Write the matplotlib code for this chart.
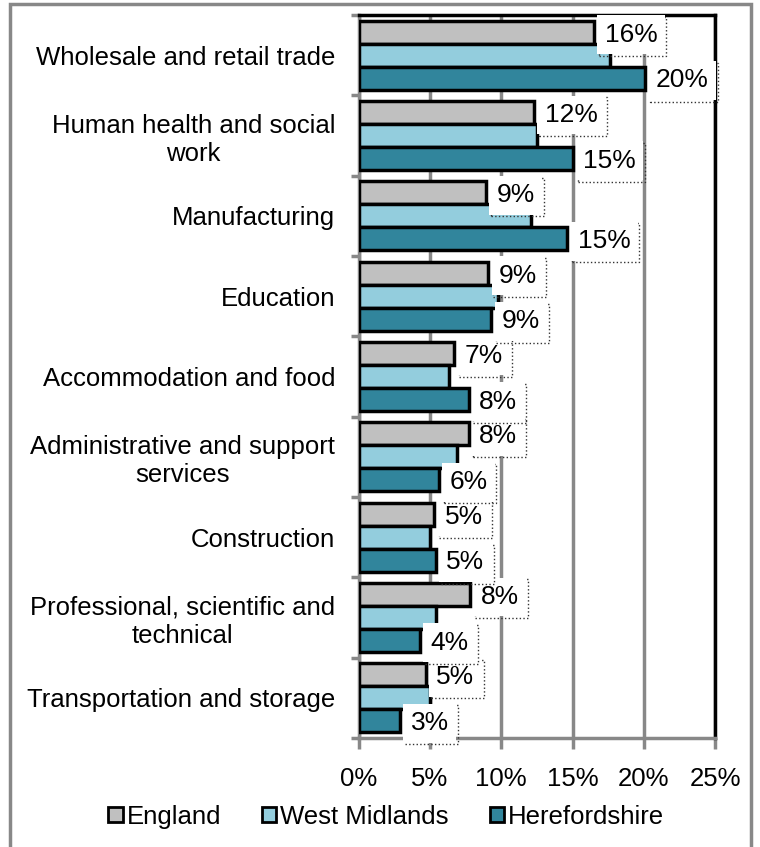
import matplotlib.pyplot as plt
import matplotlib.patheffects as pe
import numpy as np
from matplotlib.patches import Patch, Rectangle

plt.rcParams['font.family'] = ['Liberation Sans', 'DejaVu Sans']

industries = ["Wholesale and retail trade", "Human health and social\nwork", "Manufacturing",
              "Education", "Accommodation and food", "Administrative and support\nservices",
              "Construction", "Professional, scientific and\ntechnical", "Transportation and storage"]
england = [16.5, 12.3, 8.9, 9.1, 6.7, 7.7, 5.3, 7.8, 4.7]
west_midlands = [17.6, 12.5, 12.1, 9.8, 6.3, 6.9, 5.0, 5.4, 5.0]
herefordshire = [20.1, 15.0, 14.6, 9.3, 7.7, 5.6, 5.4, 4.3, 2.9]
series = ["England", "West Midlands", "Herefordshire"]
colours = ["#c0c0c0", "#93cddd", "#31859c"]

fig = plt.figure(figsize=(7.6, 8.47), dpi=100)
ax = fig.add_axes([0.472, 0.1287, 0.469, 0.8536])

y = np.arange(len(industries))
h = 0.285
for vals, off, c in zip([england, west_midlands, herefordshire], [-h, 0, h], colours):
    ax.barh(y + off, vals, height=h, color=c, edgecolor='black', linewidth=2.5, zorder=3)

# labels on England and Herefordshire bars: white box with a dotted "shadow"
box_fx = [pe.PathPatchEffect(offset=(1.2, -1.2), facecolor='none', edgecolor='#333333',
                             linestyle=':', linewidth=1),
          pe.Normal()]
for vals, off in [(england, -h), (herefordshire, h)]:
    for yi, v in zip(y, vals):
        t = ax.text(v + 0.75, yi + off + 0.03, "%d%%" % round(v), fontsize=19, va='center',
                    ha='left', zorder=5,
                    bbox=dict(facecolor='white', edgecolor='none', boxstyle='square,pad=0.28'))
        t.get_bbox_patch().set_path_effects(box_fx)

ax.set_xlim(0, 25)
ax.set_ylim(len(industries) - 0.5, -0.5)
ax.set_xticks(np.arange(0, 26, 5))
ax.set_xticklabels(["%d%%" % t for t in range(0, 26, 5)], fontsize=18.5)
ax.set_yticks(y)
ax.set_yticklabels(industries, fontsize=18.5, multialignment='center')
ax.set_yticks(np.arange(-0.5, len(industries)), minor=True)
ax.tick_params(axis='y', which='major', length=0, pad=17)
ax.tick_params(axis='y', which='minor', length=6, width=2.5, color='#888888', direction='out')
ax.tick_params(axis='x', length=8, width=2.5, color='#888888', pad=13)

ax.grid(axis='x', color='#888888', linewidth=2.5, zorder=0)
ax.set_axisbelow(True)
for s in ['left', 'bottom']:
    ax.spines[s].set_color('#888888')
    ax.spines[s].set_linewidth(2.5)
for s in ['top', 'right']:
    ax.spines[s].set_color('black')
    ax.spines[s].set_linewidth(2.5)

handles = [Patch(facecolor=c, edgecolor='black', linewidth=2) for c in colours]
fig.legend(handles, series, loc='center', bbox_to_anchor=(0.508, 0.036), ncol=3, frameon=False,
           fontsize=18.5, handlelength=0.55, handleheight=0.55, handletextpad=0.15,
           columnspacing=1.6)

fig.patches.append(Rectangle((0.0125, -0.01), 0.976, 1.005, transform=fig.transFigure,
                             fill=False, edgecolor='#888888', linewidth=2.5))

fig.savefig("out.png", dpi=100)
